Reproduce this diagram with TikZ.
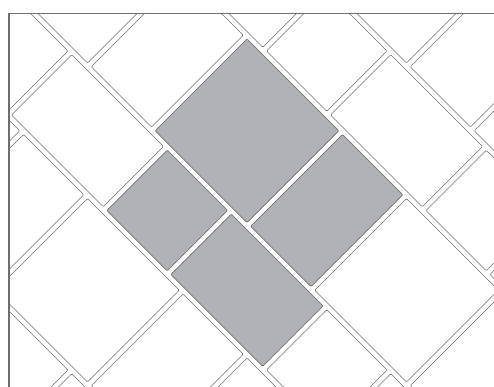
\documentclass[tikz,border=0pt]{standalone}
\definecolor{tilefill}{RGB}{177,178,181}
\definecolor{edgegray}{RGB}{112,112,112}
\definecolor{framegray}{RGB}{110,110,110}
\tikzset{
  tile/.style={draw=edgegray, line width=0.6pt, rounded corners=1pt, fill=white},
  greytile/.style={tile, fill=tilefill},
  framebox/.style={draw=framegray, line width=1.2pt}
}
\newcommand\tilepath[5]{\draw[#5] (#1,#2) -- (#3,#2) -- (#3,#4) -- (#1,#4) -- cycle;}
\begin{document}
\begin{tikzpicture}
\useasboundingbox (0pt,0pt) rectangle (494pt,387pt);
\begin{scope}
  \clip (9pt,0pt) rectangle (494pt,373.5pt);
  \begin{scope}[shift={(0pt,387pt)}, x={(0.5pt,-0.5pt)}, y={(-0.5pt,-0.5pt)}]
    \foreach \i in {-2,...,2}{
      \foreach \j in {-2,...,1}{
        \pgfmathsetmacro{\dp}{319*\i}
        \pgfmathsetmacro{\dq}{319*\j}
        % row A: big square and upright rectangle
        \tilepath{286+\dp}{-208+\dq}{469.5+\dp}{-24.5+\dq}{tile}
        \tilepath{477+\dp}{-208+\dq}{597.5+\dp}{-24.5+\dq}{tile}
        % row B: small square and long rectangle
        \tilepath{317.5+\dp}{-17+\dq}{438+\dp}{103.5+\dq}{tile}
        \tilepath{445.5+\dp}{-17+\dq}{629+\dp}{103.5+\dq}{tile}
      }
    }
    % grey group
    \tilepath{286}{-208}{469.5}{-24.5}{greytile}
    \tilepath{477}{-208}{597.5}{-24.5}{greytile}
    \tilepath{317.5}{-17}{438}{103.5}{greytile}
    \tilepath{445.5}{-17}{629}{103.5}{greytile}
  \end{scope}
\end{scope}
\draw[framebox] (9pt,0pt) -- (9pt,373.5pt) -- (494pt,373.5pt);
\end{tikzpicture}
\end{document}
